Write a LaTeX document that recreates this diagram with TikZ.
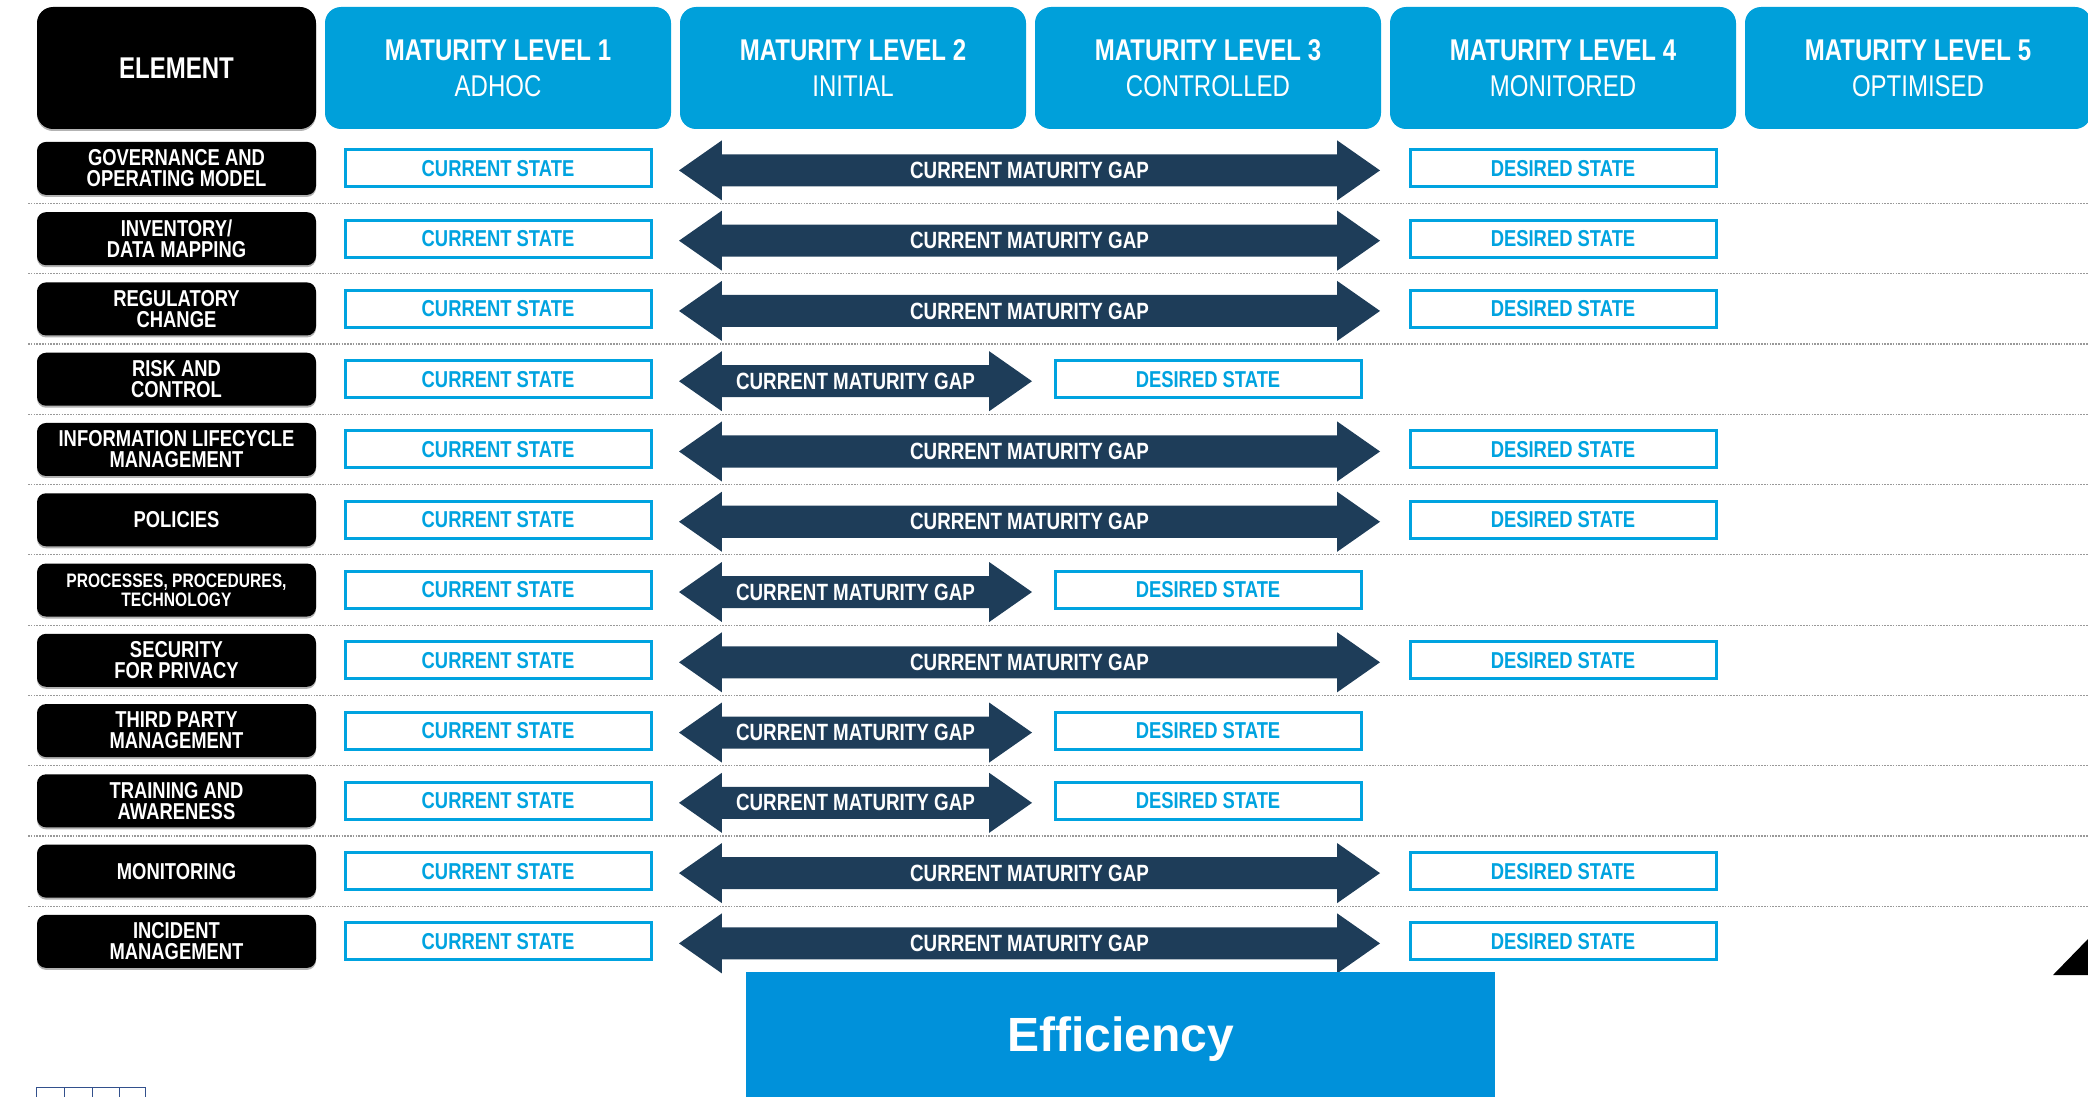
\documentclass[tikz,border=0pt]{standalone}
\usepackage{fontspec}
\newfontfamily\condfont[FakeStretch=0.8]{Liberation Sans}
\newfontfamily\efffont{Liberation Sans}
\usetikzlibrary{positioning}
\usetikzlibrary{calc}
\usetikzlibrary{shapes.arrows}
\usetikzlibrary{shadows}
\definecolor{headblue}{RGB}{0,160,218}
\definecolor{stateblue}{RGB}{0,163,224}
\definecolor{gapnavy}{RGB}{30,61,89}
\definecolor{effblue}{RGB}{0,145,218}
\definecolor{tofublue}{RGB}{50,80,140}
\tikzset{%
  lvlbox/.style = {rectangle,fill=headblue,text=white,rounded corners=16pt,
        minimum width=346pt,minimum height=122pt,align=center,outer sep=0pt,
        font=\condfont\fontsize{30}{36}\selectfont},
  elembox/.style = {rectangle,fill=black,text=white,rounded corners=9pt,
        minimum width=279pt,minimum height=53pt,align=center,outer sep=0pt,
        font=\condfont\bfseries\fontsize{23}{21}\selectfont,
        drop shadow={shadow xshift=0pt,shadow yshift=-2pt,fill=gray,opacity=.6}},
  statebox/.style = {rectangle,draw=stateblue,line width=3pt,fill=white,
        text=stateblue,minimum width=306pt,minimum height=37pt,outer sep=0pt,
        font=\condfont\bfseries\fontsize{23}{23}\selectfont},
  gaparrow/.style = {double arrow,fill=gapnavy,text=white,inner xsep=0pt,
        inner ysep=7.5pt,minimum width=60pt,double arrow head extend=14pt,
        double arrow tip angle=70,outer sep=0pt,yshift=-2pt,
        font=\condfont\bfseries\fontsize{23.5}{23.5}\selectfont},
  longgap/.style = {gaparrow,minimum height=701pt},
  shortgap/.style = {gaparrow,minimum height=353pt},
  sepline/.style = {gray!80,line width=1.2pt,dash pattern=on 1.6pt off 1.2pt},
  effbox/.style = {rectangle,fill=effblue,text=white,minimum width=749pt,
        minimum height=125pt,text depth=0pt,
        font=\efffont\bfseries\fontsize{48}{56}\selectfont},
  tofu/.style = {draw=tofublue,line width=1pt}
}

\begin{document}
\begin{tikzpicture}[x=1pt,y=1pt,node distance=17.27pt and 9pt]
   \useasboundingbox (0,0) rectangle (2088,-1097);

   % header row
   \node[elembox,minimum height=122pt,rounded corners=16pt,drop shadow={opacity=0},
         font=\condfont\bfseries\fontsize{30}{36}\selectfont] (element) at (176.5,-68) {ELEMENT};
   \node[lvlbox] (lvl1) [right=of element] {{\bfseries MATURITY LEVEL 1}\\ADHOC};
   \node[lvlbox] (lvl2) [right=of lvl1] {{\bfseries MATURITY LEVEL 2}\\INITIAL};
   \node[lvlbox] (lvl3) [right=of lvl2] {{\bfseries MATURITY LEVEL 3}\\CONTROLLED};
   \node[lvlbox] (lvl4) [right=of lvl3] {{\bfseries MATURITY LEVEL 4}\\MONITORED};
   \node[lvlbox] (lvl5) [right=of lvl4] {{\bfseries MATURITY LEVEL 5}\\OPTIMISED};

   % elements
   \node[elembox] (e1) [below=12.9pt of element] {GOVERNANCE AND\\OPERATING MODEL};
   \node[elembox] (e2) [below=of e1] {INVENTORY/\\DATA MAPPING};
   \node[elembox] (e3) [below=of e2] {REGULATORY\\CHANGE};
   \node[elembox] (e4) [below=of e3] {RISK AND\\CONTROL};
   \node[elembox] (e5) [below=of e4] {INFORMATION LIFECYCLE\\MANAGEMENT};
   \node[elembox] (e6) [below=of e5] {POLICIES};
   \node[elembox,font=\condfont\bfseries\fontsize{19.5}{19}\selectfont] (e7) [below=of e6]
         {PROCESSES, PROCEDURES,\\TECHNOLOGY};
   \node[elembox] (e8) [below=of e7] {SECURITY\\FOR PRIVACY};
   \node[elembox] (e9) [below=of e8] {THIRD PARTY\\MANAGEMENT};
   \node[elembox] (e10) [below=of e9] {TRAINING AND\\AWARENESS};
   \node[elembox] (e11) [below=of e10] {MONITORING};
   \node[elembox] (e12) [below=of e11] {INCIDENT\\MANAGEMENT};

   % current states
   \node[statebox] (c1) at (lvl1 |- e1) {CURRENT STATE};
   \node[statebox] (c2) at (lvl1 |- e2) {CURRENT STATE};
   \node[statebox] (c3) at (lvl1 |- e3) {CURRENT STATE};
   \node[statebox] (c4) at (lvl1 |- e4) {CURRENT STATE};
   \node[statebox] (c5) at (lvl1 |- e5) {CURRENT STATE};
   \node[statebox] (c6) at (lvl1 |- e6) {CURRENT STATE};
   \node[statebox] (c7) at (lvl1 |- e7) {CURRENT STATE};
   \node[statebox] (c8) at (lvl1 |- e8) {CURRENT STATE};
   \node[statebox] (c9) at (lvl1 |- e9) {CURRENT STATE};
   \node[statebox] (c10) at (lvl1 |- e10) {CURRENT STATE};
   \node[statebox] (c11) at (lvl1 |- e11) {CURRENT STATE};
   \node[statebox] (c12) at (lvl1 |- e12) {CURRENT STATE};

   % maturity gaps
   \node[longgap] (g1) [right=28pt of c1] {CURRENT MATURITY GAP};
   \node[longgap] (g2) [right=28pt of c2] {CURRENT MATURITY GAP};
   \node[longgap] (g3) [right=28pt of c3] {CURRENT MATURITY GAP};
   \node[shortgap] (g4) [right=28pt of c4] {CURRENT MATURITY GAP};
   \node[longgap] (g5) [right=28pt of c5] {CURRENT MATURITY GAP};
   \node[longgap] (g6) [right=28pt of c6] {CURRENT MATURITY GAP};
   \node[shortgap] (g7) [right=28pt of c7] {CURRENT MATURITY GAP};
   \node[longgap] (g8) [right=28pt of c8] {CURRENT MATURITY GAP};
   \node[shortgap] (g9) [right=28pt of c9] {CURRENT MATURITY GAP};
   \node[shortgap] (g10) [right=28pt of c10] {CURRENT MATURITY GAP};
   \node[longgap] (g11) [right=28pt of c11] {CURRENT MATURITY GAP};
   \node[longgap] (g12) [right=28pt of c12] {CURRENT MATURITY GAP};

   % desired states
   \node[statebox] (d1) at (lvl4 |- e1) {DESIRED STATE};
   \node[statebox] (d2) at (lvl4 |- e2) {DESIRED STATE};
   \node[statebox] (d3) at (lvl4 |- e3) {DESIRED STATE};
   \node[statebox] (d4) at (lvl3 |- e4) {DESIRED STATE};
   \node[statebox] (d5) at (lvl4 |- e5) {DESIRED STATE};
   \node[statebox] (d6) at (lvl4 |- e6) {DESIRED STATE};
   \node[statebox] (d7) at (lvl3 |- e7) {DESIRED STATE};
   \node[statebox] (d8) at (lvl4 |- e8) {DESIRED STATE};
   \node[statebox] (d9) at (lvl3 |- e9) {DESIRED STATE};
   \node[statebox] (d10) at (lvl3 |- e10) {DESIRED STATE};
   \node[statebox] (d11) at (lvl4 |- e11) {DESIRED STATE};
   \node[statebox] (d12) at (lvl4 |- e12) {DESIRED STATE};

   % dotted row separators
   \coordinate (lft) at (28,0);
   \coordinate (rgt) at (2088,0);
   \coordinate (s1) at ($(e1)!.5!(e2)$);
   \coordinate (s2) at ($(e2)!.5!(e3)$);
   \coordinate (s3) at ($(e3)!.5!(e4)$);
   \coordinate (s4) at ($(e4)!.5!(e5)$);
   \coordinate (s5) at ($(e5)!.5!(e6)$);
   \coordinate (s6) at ($(e6)!.5!(e7)$);
   \coordinate (s7) at ($(e7)!.5!(e8)$);
   \coordinate (s8) at ($(e8)!.5!(e9)$);
   \coordinate (s9) at ($(e9)!.5!(e10)$);
   \coordinate (s10) at ($(e10)!.5!(e11)$);
   \coordinate (s11) at ($(e11)!.5!(e12)$);
   \draw[sepline] (lft |- s1) -- (rgt |- s1) (lft |- s2) -- (rgt |- s2)
      (lft |- s3) -- (rgt |- s3) (lft |- s4) -- (rgt |- s4)
      (lft |- s5) -- (rgt |- s5) (lft |- s6) -- (rgt |- s6)
      (lft |- s7) -- (rgt |- s7) (lft |- s8) -- (rgt |- s8)
      (lft |- s9) -- (rgt |- s9) (lft |- s10) -- (rgt |- s10)
      (lft |- s11) -- (rgt |- s11);

   % bottom
   \node[effbox] (eff) at (1120.5,-1034.5) {Efficiency};
   \fill[black] (2053,-975) -- (2088,-975) -- (2088,-939) -- cycle;
   \draw[tofu] (36,-1087) rectangle (64,-1101);
   \draw[tofu] (64,-1087) rectangle (92,-1101);
   \draw[tofu] (92,-1087) rectangle (119,-1101);
   \draw[tofu] (119,-1087) rectangle (145,-1101);
\end{tikzpicture}
\end{document}
